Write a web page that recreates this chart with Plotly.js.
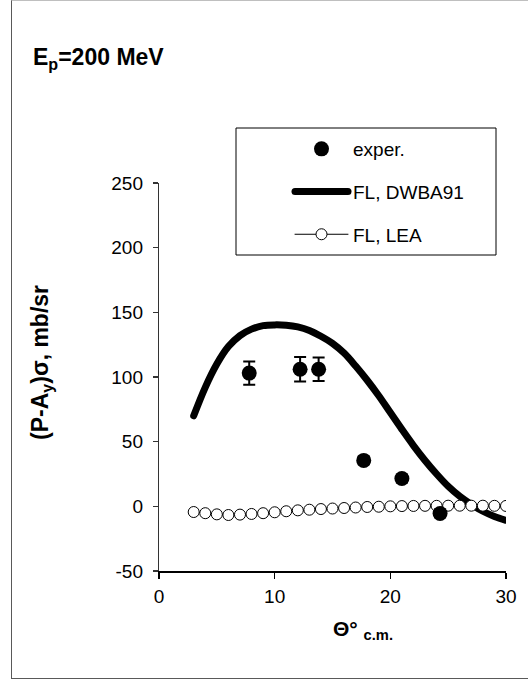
<!DOCTYPE html>
<html>
<head>
<meta charset="utf-8">
<script src="https://cdn.plot.ly/plotly-3.0.1.min.js"></script>
<style>
  html, body { margin: 0; padding: 0; background: #fff; }
  #chart { position: absolute; left: 0; top: 0; width: 528px; height: 682px; }
  #frame { position: absolute; left: 11px; top: 0; width: 700px; height: 679px;
           border-left: 1px solid #595959; border-top: 1px solid #bfbfbf; border-bottom: 1px solid #595959;
           box-sizing: border-box; pointer-events: none; }
  #chart path.js-line { stroke-linecap: round; }
</style>
</head>
<body>
<div id="chart"></div>
<div id="frame"></div>
<script>
// Experimental data
const experX = [7.8, 12.2, 13.8, 17.7, 21.0, 24.3];
const experY = [103, 106, 106, 35.5, 21.5, -5.5];
const experErr = [9, 9.5, 9, 3, 3, 3];

// FL, DWBA91 curve
const dwbaX = [3,4,5,6,7,8,9,10,11,12,13,14,15,16,17,18,19,20,21,22,23,24,25,26,27,28,29,30];
const dwbaY = [70,92,110,123.5,132,137,139.7,140.3,140,138.7,136,131.5,126,118.5,108.5,97.5,85.5,72.5,59.5,47,35.5,25,15.5,7.8,1.5,-3.8,-7.8,-10.8];

// FL, LEA curve
const leaX = [3,4,5,6,7,8,9,10,11,12,13,14,15,16,17,18,19,20,21,22,23,24,25,26,27,28,29,30];
const leaY = [-4.4,-5.3,-6.2,-6.7,-6.4,-5.9,-5.3,-4.6,-3.8,-3.1,-2.6,-2.1,-1.7,-1.3,-0.9,-0.5,-0.3,0,0.2,0.3,0.4,0.4,0.5,0.5,0.5,0.5,0.4,0.3];

// Tick labels
const xTicks = [0, 10, 20, 30];
const yTicks = [-50, 0, 50, 100, 150, 200, 250];

const FONT = 'Liberation Sans, Arial, sans-serif';

const traces = [
  {
    x: dwbaX, y: dwbaY, name: 'FL, DWBA91', type: 'scatter', mode: 'lines',
    line: { color: '#000', width: 7, shape: 'spline', smoothing: 1 },
    legendrank: 2, legendgroup: 'b'
  },
  {
    x: leaX, y: leaY, name: 'FL, LEA', type: 'scatter', mode: 'lines+markers',
    line: { color: '#000', width: 1 },
    marker: { symbol: 'circle', size: 11, color: '#fff', line: { color: '#000', width: 1 } },
    legendrank: 3, legendgroup: 'c'
  },
  {
    x: experX, y: experY, name: 'exper.', type: 'scatter', mode: 'markers',
    marker: { symbol: 'circle', size: 15, color: '#000' },
    error_y: { type: 'data', array: experErr, visible: true, color: '#000', thickness: 2, width: 6 },
    legendrank: 1, legendgroup: 'a'
  }
];

const W = 528, H = 682, L = 159, R = 22, T = 183, B = 111;
const pw = W - L - R, ph = H - T - B;
const px = v => (v - L) / pw;
const py = v => (H - B - v) / ph;

const layout = {
  width: W, height: H,
  margin: { l: L, r: R, t: T, b: B, pad: 0 },
  paper_bgcolor: '#fff', plot_bgcolor: '#fff',
  font: { family: FONT, size: 19, color: '#000' },
  title: {
    text: '<b>E<sub>p</sub>=200 MeV</b>',
    xref: 'container', yref: 'container',
    x: 33 / W, xanchor: 'left', y: 1 - 57 / H, yanchor: 'middle',
    font: { family: FONT, size: 23, color: '#000' }
  },
  xaxis: {
    range: [0, 30], tickvals: xTicks, ticktext: xTicks.map(String),
    showgrid: false, zeroline: false, showline: true, linecolor: '#000', linewidth: 2,
    ticks: 'outside', ticklen: 6, tickwidth: 1.5, tickcolor: '#000',
    ticklabelstandoff: 1,
    tickfont: { family: FONT, size: 19, color: '#000' }
  },
  yaxis: {
    range: [-50, 250], tickvals: yTicks, ticktext: yTicks.map(String),
    showgrid: false, zeroline: false, showline: true, linecolor: '#333', linewidth: 1.2,
    ticks: 'outside', ticklen: 5, tickwidth: 1.2, tickcolor: '#333',
    ticklabelstandoff: 6,
    tickfont: { family: FONT, size: 19, color: '#000' }
  },
  showlegend: true,
  legend: {
    x: px(290), xanchor: 'left', y: py(130), yanchor: 'top',
    bgcolor: 'rgba(0,0,0,0)', borderwidth: 0,
    traceorder: 'grouped', tracegroupgap: 15, itemwidth: 53,
    font: { family: FONT, size: 19, color: '#000' }
  },
  shapes: [
    { type: 'rect', xref: 'paper', yref: 'paper', x0: px(236), x1: px(496), y0: py(255), y1: py(128),
      line: { color: '#000', width: 1 }, fillcolor: 'rgba(0,0,0,0)', layer: 'above' }
  ],
  annotations: [
    { text: '<b>(P-A<sub>y</sub>)σ, mb/sr</b>', xref: 'paper', yref: 'paper',
      x: px(41), y: py(362), xanchor: 'center', yanchor: 'middle', textangle: -90,
      showarrow: false, font: { family: FONT, size: 23, color: '#000' } },
    { text: '<b>Θ°</b> <sub><b>c.m.</b></sub>', xref: 'paper', yref: 'paper',
      x: px(331), y: py(630), xanchor: 'left', yanchor: 'middle',
      showarrow: false, font: { family: FONT, size: 21, color: '#000' } }
  ]
};

Plotly.newPlot('chart', traces, layout, { displayModeBar: false, staticPlot: true });
</script>
</body>
</html>
